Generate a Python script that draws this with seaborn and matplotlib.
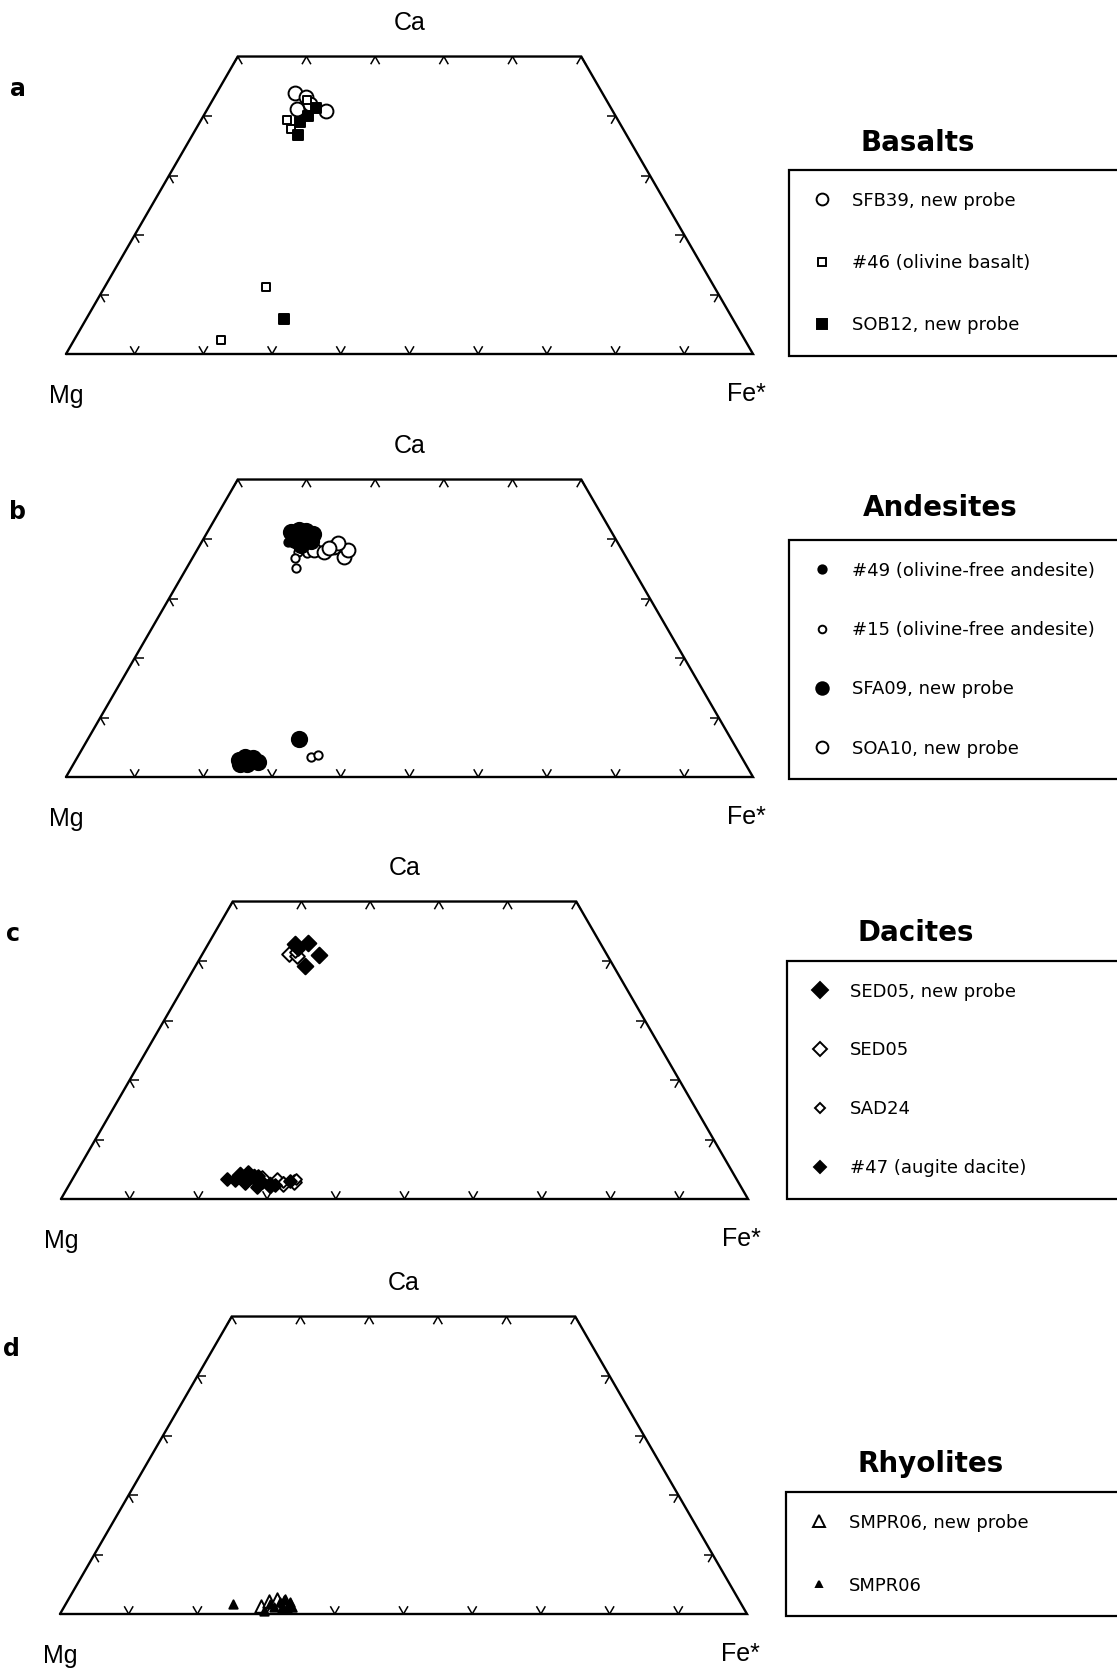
import numpy as np
import matplotlib
matplotlib.use("Agg")
import matplotlib.pyplot as plt
import seaborn as sns
from matplotlib.lines import Line2D

# pyroxene compositions read off the quadrilaterals: Wo (Ca %) and Fs (Fe* %)
# a - basalts
sfb39_wo = [43.8, 41.2, 40.9, 43.2, 42.0]
sfb39_fs = [11.5, 13.0, 17.4, 13.4, 14.5]
b46_wo = [42.7, 39.4, 37.8, 11.3, 2.3]
b46_fs = [13.8, 12.4, 13.9, 23.4, 21.4]
sob12_wo = [40.0, 36.8, 41.4, 39.0, 5.8]
sob12_fs = [15.2, 15.3, 15.7, 14.5, 28.9]

# b - andesites
a15_wo = [37.8, 36.8, 35.1, 37.8, 37.7, 3.4, 3.7]
a15_fs = [14.8, 14.9, 16.0, 17.0, 16.2, 33.9, 34.9]
soa10_wo = [38.2, 37.9, 38.7, 37.0, 38.2, 39.3, 38.5]
soa10_fs = [17.0, 18.6, 19.7, 21.9, 21.9, 19.9, 19.0]
sfa09_wo = [41.2, 41.5, 41.3, 40.8, 39.8, 40.2, 39.7, 39.0, 2.9, 3.4, 3.2, 2.6, 2.2, 2.2, 6.4]
sfa09_fs = [12.1, 13.1, 14.3, 15.5, 13.5, 14.5, 15.8, 14.7, 23.7, 24.4, 25.6, 26.7, 25.3, 24.3, 30.7]
a49_wo = [40.5, 41.0, 39.5]
a49_fs = [13.0, 14.0, 12.5]

# c - dacites
sed05n_wo = [43.0, 41.0, 39.1, 42.8, 4.0, 3.7, 2.4, 3.1]
sed05n_fs = [14.4, 17.0, 16.0, 12.6, 24.0, 26.3, 29.2, 25.2]
sed05_wo = [41.1, 40.8, 3.2, 2.6, 2.9, 3.6]
sed05_fs = [12.7, 13.9, 29.8, 31.0, 32.5, 27.5]
sad24_wo = [2.8, 3.3, 41.5]
sad24_fs = [30.9, 32.5, 13.3]
d47_wo = [3.4, 4.6, 2.9, 3.0, 2.0, 2.7, 3.2, 42.0, 3.8, 2.4]
d47_fs = [22.4, 24.9, 27.8, 31.8, 27.6, 25.4, 23.7, 13.5, 26.8, 29.9]

# d - rhyolites
smpr06n_wo = [1.3, 2.2, 2.5, 2.2, 1.5]
smpr06n_fs = [28.6, 29.3, 30.3, 31.7, 32.8]
smpr06_wo = [1.7, 1.0, 0.5, 1.2, 2.0, 1.6, 2.4, 1.0, 2.0, 1.3]
smpr06_fs = [24.4, 31.8, 29.4, 30.5, 31.0, 29.8, 31.4, 32.6, 32.5, 33.0]

# label, wo, fs, marker, size (pt), filled, legend size (pt)
basalts = [("SFB39, new probe", sfb39_wo, sfb39_fs, "o", 10, False, 8.5),
           ("#46 (olivine basalt)", b46_wo, b46_fs, "s", 6, False, 5.5),
           ("SOB12, new probe", sob12_wo, sob12_fs, "s", 6.5, True, 6.5)]
andesites = [("#49 (olivine-free andesite)", a49_wo, a49_fs, "o", 6, True, 6),
             ("#15 (olivine-free andesite)", a15_wo, a15_fs, "o", 6, False, 5.5),
             ("SFA09, new probe", sfa09_wo, sfa09_fs, "o", 11, True, 9),
             ("SOA10, new probe", soa10_wo, soa10_fs, "o", 10, False, 8.5)]
dacites = [("SED05, new probe", sed05n_wo, sed05n_fs, "D", 8, True, 8),
           ("SED05", sed05_wo, sed05_fs, "D", 7.5, False, 7.5),
           ("SAD24", sad24_wo, sad24_fs, "D", 5.5, False, 5.5),
           ("#47 (augite dacite)", d47_wo, d47_fs, "D", 6.5, True, 6)]
rhyolites = [("SMPR06, new probe", smpr06n_wo, smpr06n_fs, "^", 9, False, 9),
             ("SMPR06", smpr06_wo, smpr06_fs, "^", 6, True, 5)]

draw_order = {"Basalts": [0, 1, 2], "Andesites": [1, 3, 2, 0],
              "Dacites": [1, 2, 0, 3], "Rhyolites": [0, 1]}

sns.set_style("white")
plt.rcParams['font.family'] = ['DejaVu Sans']
plt.rcParams['text.color'] = 'black'

H = np.sqrt(3) / 2
W, HP = 1117, 1669
S = 6.87  # pixels per percent


def tern(wo, fs):
    wo = np.asarray(wo, float)
    fs = np.asarray(fs, float)
    return fs + wo / 2, wo * H


def chevron(ax, wo, fs, angles, L=1.3):
    x0, y0 = tern(wo, fs)
    for a in angles:
        r = np.radians(a)
        ax.plot([x0, x0 + L * np.cos(r)], [y0, y0 + L * np.sin(r)], color="black", lw=1.1,
                solid_capstyle="butt")


fig = plt.figure(figsize=(W / 100, HP / 100), dpi=100)

# letter, base line y (px), Mg corner x (px), legend title, series, title pos,
# legend box (top, bottom, left), label spacing
panels = [("a", 354, 66, "Basalts", basalts, (918, 143), (170, 353, 789), 2.45),
          ("b", 777, 66, "Andesites", andesites, (940, 508), (540, 777, 789), 2.29),
          ("c", 1199, 61, "Dacites", dacites, (916, 933), (961, 1197, 787), 2.26),
          ("d", 1614, 60, "Rhyolites", rhyolites, (931, 1464), (1492, 1615, 786), 2.5)]

for letter, by, bx, title, series, tpos, box, lsp in panels:
    ax = fig.add_axes([0, 1 - (by + 60) / HP, 782 / W, 420 / HP])
    ax.set_xlim(-bx / S, (782 - bx) / S)
    ax.set_ylim(-60 / S, 360 / S)
    ax.axis("off")

    ox, oy = tern([0, 50, 50, 0, 0], [0, 0, 50, 100, 0])
    ax.plot(ox, oy, color="black", lw=1.7, solid_joinstyle="miter")
    for f in range(10, 100, 10):
        chevron(ax, 0, f, [60, 120])
    for f in range(0, 60, 10):
        chevron(ax, 50, f, [240, 300])
    for w in range(10, 50, 10):
        chevron(ax, w, 0, [0, 300])
        chevron(ax, w, 100 - w, [180, 240])

    for i in draw_order[title]:
        lab, wo, fs, mk, ms, filled, lms = series[i]
        x, y = tern(wo, fs)
        sns.scatterplot(x=x, y=y, marker=mk, s=ms ** 2, ax=ax, legend=False,
                        facecolor="black" if filled else "white", edgecolor="black",
                        linewidth=1.4, zorder=3)

    ax.text(50, 48.2, "Ca", ha="center", va="center", fontsize=18, family="Liberation Sans")
    ax.text(0, -6.1, "Mg", ha="center", va="center", fontsize=18, family="Liberation Sans")
    ax.text(99, -5.8, "Fe*", ha="center", va="center", fontsize=18, family="Liberation Sans")
    ax.text(-7, 38.6, letter, ha="center", va="center", fontsize=17, fontweight="bold")

    fig.text(tpos[0] / W, 1 - tpos[1] / HP, title, ha="center", va="center",
             fontsize=20, fontweight="bold")

    handles = [Line2D([], [], ls="", marker=mk, ms=lms, mew=1.4, mec="black",
                      mfc="black" if filled else "white")
               for lab, wo, fs, mk, ms, filled, lms in series]
    labels = [s[0] for s in series]
    top, bot, left = box
    leg = ax.legend(handles, labels, loc="upper left",
                    bbox_to_anchor=(left / W, 1 - bot / HP, 400 / W, (bot - top) / HP),
                    bbox_transform=fig.transFigure, mode="expand", borderaxespad=0,
                    frameon=True, fancybox=False, edgecolor="black", framealpha=1,
                    fontsize=13, labelspacing=lsp, borderpad=1.2, handlelength=1.2,
                    handletextpad=1.1, labelcolor="black")
    leg.get_frame().set_linewidth(1.6)

fig.savefig("out.png", dpi=100, facecolor="white")
